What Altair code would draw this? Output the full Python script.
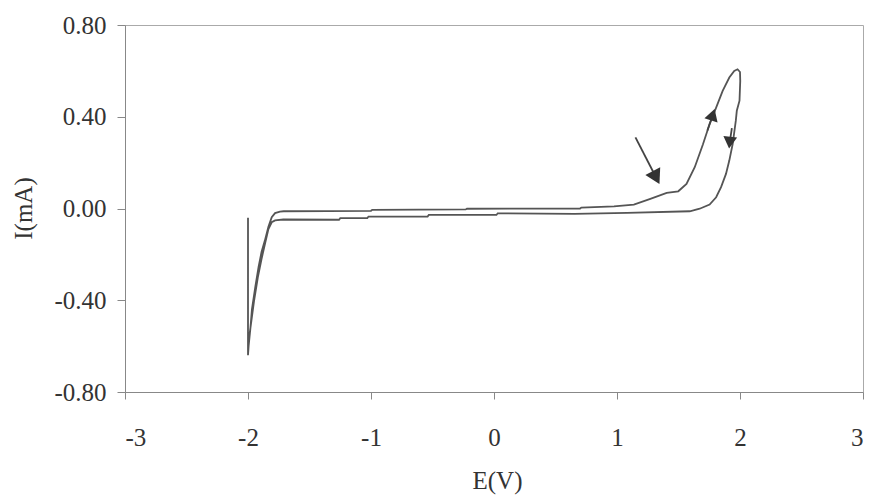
import altair as alt
import pandas as pd

# Cyclic voltammogram trace, in scan order (E in V, I in mA)
E_vals = [
    -2.000, -2.000, -1.995, -1.980, -1.968, -1.940, -1.914, -1.890, -1.863, -1.834,
    -1.807, -1.780, -1.740, -1.710, -1.000, -0.990, -0.230, -0.220, 0.700, 0.710,
    0.976, 1.137, 1.271, 1.404, 1.498, 1.565, 1.632, 1.699, 1.753, 1.806,
    1.859, 1.913, 1.953, 1.980, 2.000, 2.002,
    1.996, 1.974, 1.966, 1.940, 1.913, 1.886, 1.846, 1.806, 1.753, 1.672,
    1.592, 1.083, 0.655, 0.030, 0.020, -0.530, -0.540, -1.020, -1.030, -1.250,
    -1.260, -1.713, -1.780, -1.807, -1.834, -1.860, -1.890, -1.920, -1.950, -1.975,
    -1.990, -2.000,
]
I_vals = [
    -0.040, -0.640, -0.600, -0.520, -0.440, -0.340, -0.255, -0.190, -0.140, -0.080,
    -0.038, -0.020, -0.014, -0.012, -0.010, -0.006, -0.004, -0.001, 0.000, 0.004,
    0.009, 0.017, 0.042, 0.068, 0.075, 0.107, 0.180, 0.280, 0.368, 0.440,
    0.513, 0.571, 0.600, 0.607, 0.595, 0.556,
    0.470, 0.426, 0.383, 0.280, 0.209, 0.151, 0.093, 0.049, 0.017, -0.001,
    -0.012, -0.019, -0.023, -0.021, -0.028, -0.028, -0.035, -0.035, -0.042, -0.042,
    -0.049, -0.048, -0.052, -0.060, -0.090, -0.150, -0.220, -0.300, -0.400, -0.500,
    -0.560, -0.600,
]

# Arrow annotations: shaft start, head position, head angle, head size
arrow_id = ["a", "b", "c"]
arrow_E0 = [1.150, 1.735, 1.934]
arrow_I0 = [0.310, 0.340, 0.350]
arrow_E1 = [1.318, 1.779, 1.916]
arrow_I1 = [0.135, 0.409, 0.287]
arrow_angle = [152.6, 17.7, 185.7]
arrow_size = [280, 190, 190]

x_ticks = [-3, -2, -1, 0, 1, 2, 3]
y_ticks = [-0.8, -0.4, 0.0, 0.4, 0.8]

cv = pd.DataFrame({"E": E_vals, "I": I_vals, "order": list(range(len(E_vals)))})
shafts = pd.DataFrame({
    "id": arrow_id * 2,
    "E": arrow_E0 + arrow_E1,
    "I": arrow_I0 + arrow_I1,
    "order": [0] * 3 + [1] * 3,
})
heads = pd.DataFrame({"E": arrow_E1, "I": arrow_I1, "angle": arrow_angle, "size": arrow_size})

FONT = "Liberation Serif"
TXT = "#333333"

x_scale = alt.Scale(domain=[-3, 3], nice=False, zero=False)
y_scale = alt.Scale(domain=[-0.8, 0.8], nice=False, zero=False)

x_axis = alt.Axis(
    values=x_ticks, title="E(V)", grid=False, tickSize=7, tickColor="#888",
    domainColor="#888", labelFont=FONT, labelFontSize=25, labelColor=TXT,
    labelPadding=38, labelBaseline="middle",
    labelExpr="datum.value < 0 ? '-' + format(-datum.value, 'd') : format(datum.value, 'd')",
    titleFont=FONT, titleFontSize=25, titleFontWeight="normal", titleColor=TXT,
    titleX=372, titleY=96, titleBaseline="alphabetic", titleAlign="center",
)
y_axis = alt.Axis(
    values=y_ticks, title="I(mA)", grid=False, tickSize=8, tickColor="#888",
    domainColor="#888", labelFont=FONT, labelFontSize=25, labelColor=TXT,
    labelPadding=11,
    labelExpr="datum.value < 0 ? '-' + format(-datum.value, '.2f') : format(datum.value, '.2f')",
    titleFont=FONT, titleFontSize=25, titleFontWeight="normal", titleColor=TXT,
    titleX=-102, titleY=183, titleAngle=270, titleBaseline="middle", titleAlign="center",
)

line = alt.Chart(cv).mark_line(color="#555555", strokeWidth=1.8).encode(
    x=alt.X("E:Q", scale=x_scale, axis=x_axis),
    y=alt.Y("I:Q", scale=y_scale, axis=y_axis),
    order="order:Q",
)

shaft = alt.Chart(shafts).mark_line(color="#444", strokeWidth=1.8).encode(
    x=alt.X("E:Q", scale=x_scale),
    y=alt.Y("I:Q", scale=y_scale),
    detail="id:N",
    order="order:Q",
)

head = alt.Chart(heads).mark_point(
    shape="triangle-up", filled=True, color="#333", opacity=1
).encode(
    x=alt.X("E:Q", scale=x_scale),
    y=alt.Y("I:Q", scale=y_scale),
    angle=alt.Angle("angle:Q", scale=None),
    size=alt.Size("size:Q", scale=None),
)

chart = alt.layer(line, shaft, head).properties(
    width=738,
    height=367,
    autosize=alt.AutoSizeParams(type="none"),
    padding={"left": 117, "top": 17, "right": 2, "bottom": 103},
    background="white",
).configure_view(stroke="#aaa", strokeWidth=1)

chart.save("out.html", embed_options={"renderer": "svg", "actions": False})
